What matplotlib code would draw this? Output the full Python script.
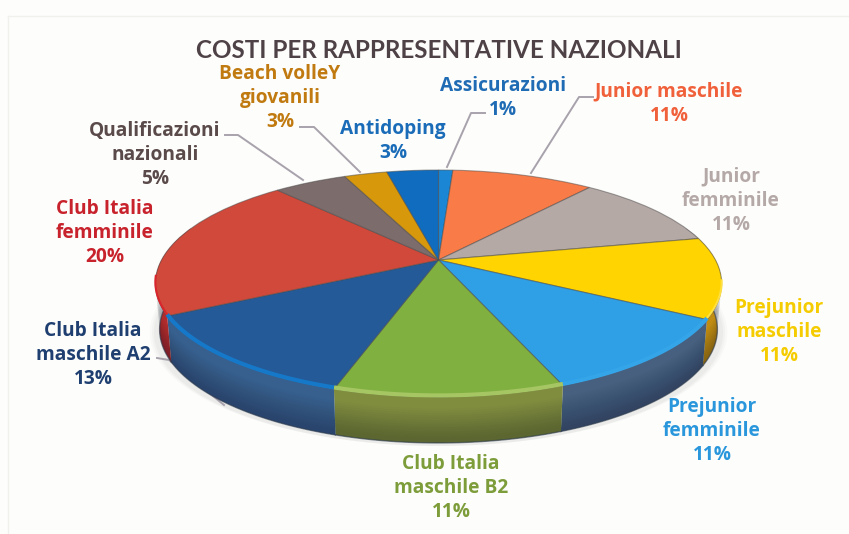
import numpy as np
import matplotlib
matplotlib.use('Agg')
import matplotlib.pyplot as plt
import matplotlib.transforms as mtrans

title = 'COSTI PER RAPPRESENTATIVE NAZIONALI'
names = ['Assicurazioni', 'Junior maschile', 'Junior\nfemminile', 'Prejunior\nmaschile',
         'Prejunior\nfemminile', 'Club Italia\nmaschile B2', 'Club Italia\nmaschile A2',
         'Club Italia\nfemminile', 'Qualificazioni\nnazionali', 'Beach volleY\ngiovanili', 'Antidoping']
percent = [1, 11, 11, 11, 11, 11, 13, 20, 5, 3, 3]
# slice sizes as seen on the drawing (they differ a bit from the rounded labels)
shares = [1.0, 9.9, 10.8, 11.5, 10.9, 10.8, 12.4, 21.0, 5.1, 3.0, 3.6]
top_col = ['#1b87d4', '#f97c48', '#b5a9a6', '#ffd400', '#2f9fe6', '#80b040',
           '#245a98', '#d1493a', '#7d6c6c', '#d8980c', '#0f6cbe']
side_col = ['#1b6fb0', '#c8623a', '#90868a', '#c08c12', '#47607f', '#818d3e',
            '#37608f', '#b02c2c', '#5e5252', '#a87a10', '#0f5a9c']
rim_col = ['#1b87d4', '#f97c48', '#b5a9a6', '#ffe040', '#35a5ea', '#a6c664',
           '#1678c8', '#d8262c', '#7d6c6c', '#d8980c', '#0f6cbe']
rim_lw = [0, 0, 0, 1.5, 3, 3, 3, 1.5, 0, 0, 0]
text_col = ['#1f6cb5', '#f0603a', '#b5a9a8', '#f5cc00', '#2a97dc', '#7d9c3a',
            '#1f3f70', '#c8232c', '#5a4a4a', '#c07a10', '#1a6cb8']
label_xy = [(503, 98), (669, 104), (731, 201), (779, 332), (712, 431), (451, 488),
            (93, 355), (105, 233), (155, 155), (280, 98), (393, 141)]
leaders = [[(485, 113), (471, 113), (447, 167)],
           [(593, 97), (579, 97), (531, 173)],
           [(225, 135), (238, 135), (303, 180)],
           [(300, 127), (314, 127), (360, 172)],
           [(157, 358), (169, 360), (224, 405)]]

CX, CY, RX, RY, K, DEPTH = 438.5, 260.0, 277.0, 108.6, 0.207, 46.0


class Persp(mtrans.Transform):
    input_dims = 2
    output_dims = 2

    def transform_non_affine(self, values):
        values = np.asarray(values, dtype=float)
        w = 1 + K * values[:, 1]
        return np.column_stack([CX + RX * values[:, 0] / w, CY - RY * values[:, 1] / w])


def ring(deg, drop=0.0, scale=1.0):
    # deg is clockwise from the top of the pie
    t = np.radians(deg)
    xy = np.column_stack([np.sin(t), np.cos(t)])
    p = Persp().transform_non_affine(xy)
    p[:, 0] = CX + (p[:, 0] - CX) * scale
    p[:, 1] = p[:, 1] + drop
    return p


fig = plt.figure(figsize=(8.49, 5.34), dpi=100, facecolor='#fdfdfb')
ax = fig.add_axes([0, 0, 1, 1])

wedges = ax.pie(shares, colors=top_col, startangle=90, counterclock=False, radius=1,
                wedgeprops=dict(linewidth=0.8, edgecolor='#4a4a4a80'))[0]
persp = Persp()
for w in wedges:
    w.set_transform(persp + ax.transData)
    w.set_zorder(5)

ax.set_aspect('auto')
ax.set_xlim(0, 849)
ax.set_ylim(534, 0)
ax.axis('off')

# paper edge of the scan
ax.plot([8, 849], [16, 16], color='#f0f0ec', lw=1, zorder=1)
ax.plot([8, 8], [16, 534], color='#f0f0ec', lw=1, zorder=1)

# soft shadow under the pie
all_deg = np.linspace(0, 360, 241)
for grow, a in [(1.02, 0.04), (1.012, 0.05), (1.005, 0.06)]:
    s = ring(all_deg, drop=DEPTH + 3, scale=grow)
    ax.fill(s[:, 0], s[:, 1], color='#8a8a8a', alpha=a, lw=0, zorder=2)

for pts in leaders:
    pts = np.array(pts)
    ax.plot(pts[:, 0], pts[:, 1], color='#a8a2ac', lw=1.4, zorder=3)

# side wall and the light rim of each slice
edges = np.concatenate([[0], np.cumsum(shares)]) / np.sum(shares) * 360
for i in range(len(shares)):
    a0, a1 = max(edges[i], 72), min(edges[i + 1], 288)
    if a1 <= a0:
        continue
    deg = np.linspace(a0, a1, 60)
    upper = ring(deg)
    lower = ring(deg, drop=DEPTH, scale=0.985)
    poly = np.vstack([upper, lower[::-1]])
    ax.fill(poly[:, 0], poly[:, 1], color=side_col[i], lw=0, zorder=4)
    # wall gets darker towards the bottom, in small steps
    for f in np.linspace(0.25, 0.9, 14):
        band = ring(deg, drop=DEPTH * f, scale=1 - 0.015 * f)
        poly2 = np.vstack([band, lower[::-1]])
        ax.fill(poly2[:, 0], poly2[:, 1], color='#101828', alpha=0.022, lw=0, zorder=4)
    ax.plot(lower[:, 0], lower[:, 1], color='#2c3a4c', lw=1.0, alpha=0.6, zorder=4)
    keep = deg[(deg > 100) & (deg < 262)]
    if rim_lw[i] and len(keep):
        rim = ring(keep, drop=-1.5)
        ax.plot(rim[:, 0], rim[:, 1], color=rim_col[i], lw=rim_lw[i], zorder=6, solid_capstyle='butt')

ax.text(439, 51, title, ha='center', va='center', color='#4f4247', fontsize=17.4,
        fontweight='bold', family='Lato')

for name, pct, col, (x, y) in zip(names, percent, text_col, label_xy):
    ax.text(x, y, f'{name}\n{pct}%', ha='center', va='center', color=col, fontsize=13.8,
            fontweight='bold', family='Open Sans', linespacing=1.29)

fig.savefig('out.png', dpi=100, facecolor=fig.get_facecolor())
